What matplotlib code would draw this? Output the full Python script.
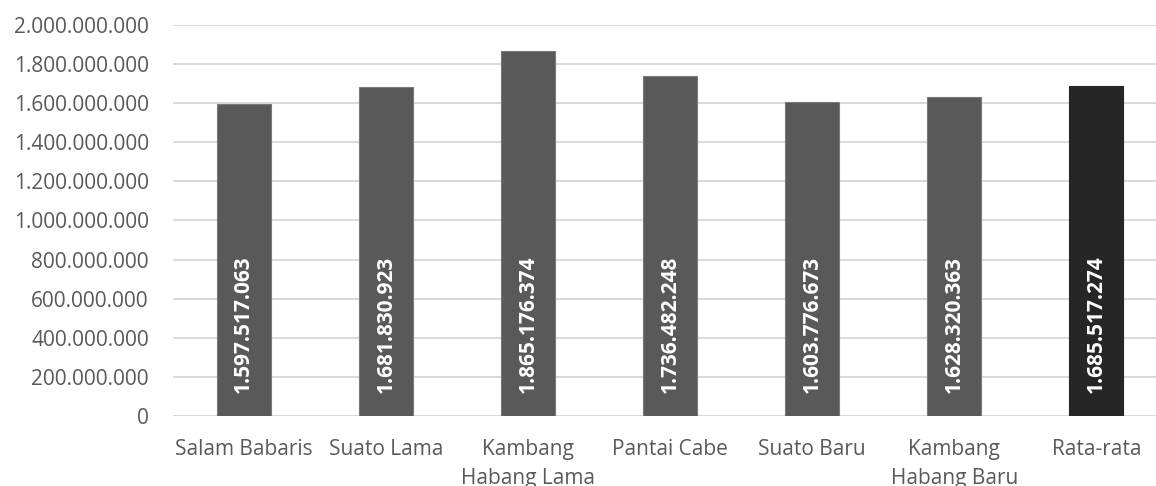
"""Bar chart: nilai per desa dan rata-rata (reproduction)."""
import matplotlib

matplotlib.use("Agg")
import matplotlib.pyplot as plt
from matplotlib.ticker import FuncFormatter

plt.rcParams.update({"font.family": ["Open Sans", "DejaVu Sans"], "font.size": 15})

CATEGORIES = ["Salam Babaris", "Suato Lama", "Kambang\nHabang Lama", "Pantai Cabe",
              "Suato Baru", "Kambang\nHabang Baru", "Rata-rata"]
VALUES = [1597517063, 1681830923, 1865176374, 1736482248, 1603776673, 1628320363, 1685517274]
LABELS = ["1.597.517.063", "1.681.830.923", "1.865.176.374", "1.736.482.248",
          "1.603.776.673", "1.628.320.363", "1.685.517.274"]
COLORS = ["#595959"] * 6 + ["#262626"]
EDGES = ["#7a7a7a"] * 6 + ["#262626"]
TEXT = "#595959"
GRID = "#d9d9d9"


def dotted(v, _pos):
    return f"{int(round(v)):,}".replace(",", ".")


fig = plt.figure(figsize=(11.56, 4.86), dpi=100)
ax = fig.add_axes([0.1493, 0.144, 0.8607, 0.805])

xs = range(len(CATEGORIES))
ax.bar(xs, VALUES, width=0.38, color=COLORS, edgecolor=EDGES, linewidth=0.8, zorder=3)
for x, lab in zip(xs, LABELS):
    ax.annotate(lab, xy=(x, 0), xytext=(0, 16.5), textcoords="offset points",
                rotation=90, ha="center", va="bottom", color="white",
                fontweight="bold", fontsize=15, zorder=4)

ax.set_xlim(-0.5, len(CATEGORIES) - 0.5)
ax.set_ylim(0, 2_000_000_000)
ax.set_yticks(range(0, 2_000_000_001, 200_000_000))
ax.yaxis.set_major_formatter(FuncFormatter(dotted))
ax.set_xticks(list(xs))
ax.set_xticklabels(CATEGORIES, linespacing=1.5)
ax.tick_params(axis="both", length=0, colors=TEXT, labelsize=15)
ax.tick_params(axis="y", pad=17)
ax.tick_params(axis="x", pad=16.5)
ax.grid(axis="y", color=GRID, linewidth=1.4, zorder=0)
for s in ax.spines.values():
    s.set_visible(False)
ax.axhline(0, color=GRID, linewidth=1.4, zorder=1)

fig.savefig("out.png", dpi=100)
